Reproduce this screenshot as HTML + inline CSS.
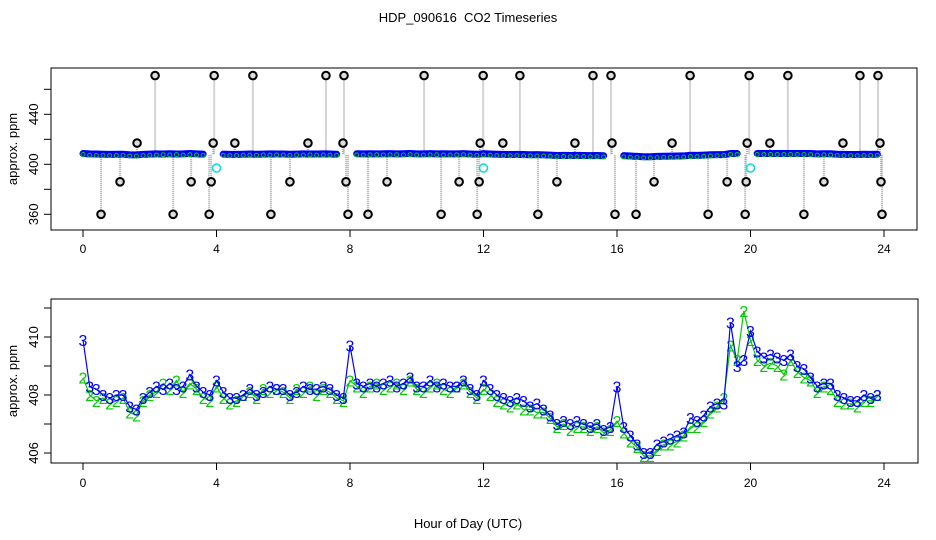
<!DOCTYPE html>
<html><head><meta charset="utf-8"><style>
html,body{margin:0;padding:0;background:#fff;}
svg{display:block;font-family:"Liberation Sans",Arial,sans-serif;}
</style></head><body>
<svg id="c" width="936" height="540" viewBox="0 0 936 540">
<text x="468" y="22" text-anchor="middle" font-size="13">HDP_090616&#160; CO2 Timeseries</text>
<g id="g"></g>
<rect x="51" y="68" width="866" height="162" fill="none" stroke="#000"/>
<rect x="51" y="299" width="867" height="164" fill="none" stroke="#000"/>
<text transform="translate(17,149) rotate(-90)" text-anchor="middle" font-size="13">approx. ppm</text>
<text transform="translate(17,381) rotate(-90)" text-anchor="middle" font-size="13">approx. ppm</text>
<text x="468" y="528" text-anchor="middle" font-size="13">Hour of Day (UTC)</text>
</svg>
<script>
const hours = [0,0.2,0.4,0.6,0.8,1,1.2,1.4,1.6,1.8,2,2.2,2.4,2.6,2.8,3,3.2,3.4,3.6,3.8,4,4.2,4.4,4.6,4.8,5,5.2,5.4,5.6,5.8,6,6.2,6.4,6.6,6.8,7,7.2,7.4,7.6,7.8,8,8.2,8.4,8.6,8.8,9,9.2,9.4,9.6,9.8,10,10.2,10.4,10.6,10.8,11,11.2,11.4,11.6,11.8,12,12.2,12.4,12.6,12.8,13,13.2,13.4,13.6,13.8,14,14.2,14.4,14.6,14.8,15,15.2,15.4,15.6,15.8,16,16.2,16.4,16.6,16.8,17,17.2,17.4,17.6,17.8,18,18.2,18.4,18.6,18.8,19,19.2,19.4,19.6,19.8,20,20.2,20.4,20.6,20.8,21,21.2,21.4,21.6,21.8,22,22.2,22.4,22.6,22.8,23,23.2,23.4,23.6,23.8];
const series3 = [409.9,408.3,408.2,408.0,407.9,408.0,408.0,407.6,407.5,407.9,408.1,408.3,408.2,408.4,408.2,408.3,408.7,408.3,408.1,408.0,408.5,408.1,407.9,407.9,408.0,408.2,408.0,408.1,408.3,408.2,408.2,408.0,408.1,408.3,408.2,408.2,408.3,408.2,408.0,407.9,409.7,408.4,408.3,408.4,408.3,408.4,408.5,408.3,408.4,408.6,408.3,408.3,408.5,408.3,408.4,408.3,408.3,408.5,408.2,408.0,408.5,408.2,408.0,407.9,407.8,407.9,407.8,407.6,407.7,407.5,407.3,407.0,407.1,407.0,407.1,407.0,406.9,407.0,406.8,406.9,408.3,406.9,406.6,406.3,406.0,406.0,406.3,406.4,406.5,406.6,406.7,407.2,407.1,407.3,407.6,407.7,407.7,410.5,409.0,409.2,410.2,409.5,409.3,409.4,409.3,409.2,409.4,409.0,408.9,408.6,408.3,408.4,408.4,408.0,407.9,407.8,407.8,408.0,407.9,408.0];
const series2 = [408.6,408.0,407.8,407.9,407.7,407.8,407.9,407.4,407.3,407.8,408.0,408.1,408.4,408.2,408.5,408.1,408.4,408.2,407.9,407.8,408.3,407.9,407.7,407.8,408.0,408.1,407.9,408.2,408.1,408.2,408.1,407.9,408.2,408.1,408.3,408.0,408.2,408.1,407.9,407.8,408.5,408.3,408.1,408.3,408.4,408.2,408.3,408.4,408.2,408.5,408.2,408.1,408.3,408.4,408.2,408.1,408.3,408.4,408.1,407.9,408.2,408.0,407.8,407.7,407.6,407.7,407.5,407.5,407.4,407.4,407.2,406.9,407.0,406.8,406.9,406.9,406.8,406.9,406.7,406.8,407.1,406.7,406.4,406.2,405.9,405.9,406.1,406.3,406.3,406.4,406.6,406.9,406.9,407.1,407.4,407.6,407.9,409.7,409.2,410.9,409.9,409.2,409.0,409.1,409.0,408.7,409.2,408.8,408.6,408.5,408.1,408.3,408.2,407.8,407.7,407.7,407.6,407.8,407.8,408.0];
const outlierHours = [2.16,3.93,5.09,7.28,7.82,10.22,11.99,13.09,15.28,15.82,18.19,19.96,21.12,23.28,23.82,1.62,3.90,4.55,6.74,7.79,11.90,12.58,14.74,15.85,17.65,19.90,20.58,22.77,23.88,1.11,3.24,3.84,6.20,7.88,9.11,11.27,11.87,14.20,17.11,19.30,19.87,22.20,23.91,0.54,2.70,3.78,5.63,7.94,8.54,10.73,11.81,13.63,15.94,16.57,18.73,19.84,21.60,23.94];
const outlierValues = [471,471,471,471,471,471,471,471,471,471,471,471,471,471,471,417,417,417,417,417,417,417,417,417,417,417,417,417,417,386,386,386,386,386,386,386,386,386,386,386,386,386,386,360,360,360,360,360,360,360,360,360,360,360,360,360,360,360,360];
const gapHours = [3.9,7.9,15.9,19.9];
const cyanHours = [4.0,12.0,20.0];
const cyanValues = [397,397,397];
const xTicks = [0,4,8,12,16,20,24];
const topYTicks = [360,380,400,420,440,460];
const topYLabels = [360,400,440];
const botYTicks = [406,407,408,409,410,411];
const botYLabels = [406,408,410];

const NS="http://www.w3.org/2000/svg";
const g=document.getElementById('g');
const X=h=>83+h*33.375;
const YT=v=>164.3-(v-400)*1.25;
const YB=v=>395-(v-408)*29;
function mk(t,a,p){const e=document.createElementNS(NS,t);for(const k in a)e.setAttribute(k,a[k]);(p||g).appendChild(e);return e;}

[[230,253,'top'],[463,487,'bottom']].forEach(([y0,ly,nm])=>{
  const ax=mk('g',{});
  
  
  xTicks.forEach(t=>{
    mk('line',{x1:X(t),x2:X(t),y1:y0,y2:y0+7,stroke:'#000'},ax);
    const tx=mk('text',{x:X(t),y:ly,'text-anchor':'middle','font-size':12},ax);tx.textContent=t;
    
    
  });
});
function yaxis(ticks,labels,Y,nm){
  const ax=mk('g',{});
  
  
  ticks.forEach(t=>mk('line',{x1:44,x2:51,y1:Y(t),y2:Y(t),stroke:'#000'},ax));
  labels.forEach(t=>{const tx=mk('text',{transform:`translate(38,${Y(t)}) rotate(-90)`,'text-anchor':'middle','font-size':13},ax);tx.textContent=t;
    
    });
}
yaxis(topYTicks,topYLabels,YT,'top');
yaxis(botYTicks,botYLabels,YB,'bottom');

const base=YT(408);
outlierHours.forEach((h,i)=>{
  const v=outlierValues[i];
  const l=mk('line',{x1:X(h),x2:X(h),y1:YT(v),y2:base,stroke:'#aaa','stroke-width':2,'stroke-dasharray':'1,1'});
  
  
});
function segs(){const out=[];let cur=[];hours.forEach((h,i)=>{if(gapHours.some(gh=>Math.abs(gh-h)<0.11)){if(cur.length)out.push(cur);cur=[];return;}cur.push(i);});if(cur.length)out.push(cur);return out;}
segs().forEach(s=>{
  const p=mk('polyline',{points:s.map(i=>X(hours[i])+','+YT(Math.min(series3[i],408.6))).join(' '),fill:'none',stroke:'#0000ff','stroke-width':7,'stroke-linecap':'round'});
  
  
  s.forEach(i=>{const c=mk('circle',{cx:X(hours[i]),cy:YT(Math.min(series2[i],408.6))+1,r:2,fill:'none',stroke:'#00cc00','stroke-width':1});
    
    });
});
cyanHours.forEach((h,i)=>{const c=mk('circle',{cx:X(h),cy:YT(cyanValues[i]),r:4,fill:'none',stroke:'#00dddd','stroke-width':1.5});
  
  });
outlierHours.forEach((h,i)=>{const c=mk('circle',{cx:X(h),cy:YT(outlierValues[i]),r:3.8,fill:'#ddd',stroke:'#000','stroke-width':2});
  
  });

[[series2,'#00cc00','2'],[series3,'#0000ff','3']].forEach(([ser,col,lab])=>{
  const p=mk('polyline',{points:hours.map((h,i)=>X(h)+','+YB(ser[i])).join(' '),fill:'none',stroke:col,'stroke-width':1.2});
  
  
  hours.forEach((h,i)=>{const t=mk('text',{x:X(h),y:YB(ser[i])+6,'text-anchor':'middle','font-size':16,fill:col});t.textContent=lab;
    
    });
});
</script>
</body></html>
